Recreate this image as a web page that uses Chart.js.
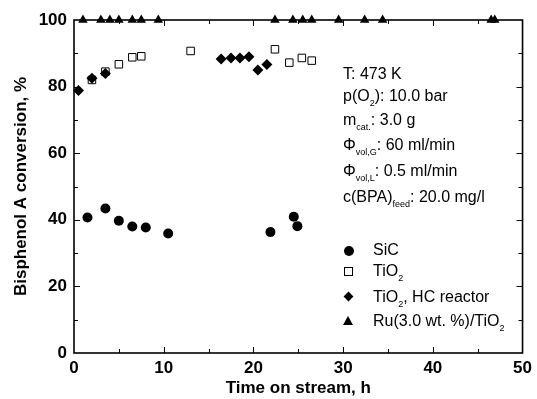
<!DOCTYPE html>
<html>
<head>
<meta charset="utf-8">
<script src="https://cdn.jsdelivr.net/npm/chart.js@4.4.1/dist/chart.umd.min.js"></script>
<style>
    body { margin: 0; background: #fff; }
    #wrap { position: relative; width: 537px; height: 399px; }
    .note {
        position: absolute;
        font-family: "Liberation Sans", Arial, sans-serif;
        font-size: 16px;
        line-height: 16px;
        color: #000;
        white-space: nowrap;
    }
    .note sub { font-size: 9px; vertical-align: -5px; line-height: 0; }
    .mk { position: absolute; }
</style>
</head>
<body>
<div id="wrap">
    <canvas id="chart"></canvas>

    <div class="note" style="left:343px; top:66px;">T: 473 K</div>
    <div class="note" style="left:343px; top:88px;">p(O<sub>2</sub>): 10.0 bar</div>
    <div class="note" style="left:343px; top:112px;">m<sub>cat.</sub>: 3.0 g</div>
    <div class="note" style="left:343px; top:137px;">&Phi;<sub>vol,G</sub>: 60 ml/min</div>
    <div class="note" style="left:343px; top:163px;">&Phi;<sub>vol,L</sub>: 0.5 ml/min</div>
    <div class="note" style="left:343px; top:189px;">c(BPA)<sub>feed</sub>: 20.0 mg/l</div>

    <div class="note" style="left:373px; top:242px;">SiC</div>
    <div class="note" style="left:373px; top:263px;">TiO<sub>2</sub></div>
    <div class="note" style="left:373px; top:289px;">TiO<sub>2</sub>, HC reactor</div>
    <div class="note" style="left:373px; top:313px;">Ru(3.0 wt. %)/TiO<sub>2</sub></div>

    <div class="mk" style="left:344px; top:246px; width:10px; height:10px; border-radius:50%; background:#000;"></div>
    <div class="mk" style="left:344px; top:267px; width:7px; height:7px; border:1px solid #000; background:#fff;"></div>
    <div class="mk" style="left:345px; top:293px; width:7px; height:7px; background:#000; transform:rotate(45deg);"></div>
    <div class="mk" style="left:343px; top:316px; width:0; height:0; border-left:5px solid transparent; border-right:5px solid transparent; border-bottom:9px solid #000;"></div>
</div>

<script>
// time on stream, h  /  conversion, %
let sicTime = [1.5, 3.5, 5.0, 6.5, 8.0, 10.5, 21.9, 24.5, 24.9];
let sicConv = [40.7, 43.4, 39.7, 38.0, 37.7, 35.9, 36.3, 40.9, 38.1];

let tio2Time = [2.0, 3.5, 5.0, 6.5, 7.5, 13.0, 22.4, 24.0, 25.4, 26.5];
let tio2Conv = [82.0, 84.5, 86.7, 88.8, 89.1, 90.7, 91.2, 87.2, 88.6, 87.8];

let hcTime = [0.5, 2.0, 3.5, 16.4, 17.5, 18.5, 19.5, 20.5, 21.5];
let hcConv = [78.8, 82.5, 83.9, 88.3, 88.6, 88.6, 89.0, 85.0, 86.6];

let ruTime = [1.0, 3.0, 4.0, 5.0, 6.5, 7.5, 9.4, 22.4, 24.4, 25.5, 26.5, 29.5, 32.4, 34.4, 46.5, 46.9];
let ruConv = [100, 100, 100, 100, 100, 100, 100, 100, 100, 100, 100, 100, 100, 100, 100, 100];

let xTicks = [0, 10, 20, 30, 40, 50];
let yTicks = [0, 20, 40, 60, 80, 100];

function toPoints(xs, ys) {
    let result = [];
    for (let i = 0; i < xs.length; i++) {
        result.push({ x: xs[i], y: ys[i] });
    }
    return result;
}

// box around the plot with inward ticks on all four sides
let framePlugin = {
    id: 'frame',
    beforeDatasetsDraw: function(chart) {
        let ctx = chart.ctx;
        let area = chart.chartArea;
        let xs = chart.scales.x;
        let ys = chart.scales.y;

        ctx.save();
        ctx.strokeStyle = '#000';
        ctx.lineWidth = 1.6;
        ctx.strokeRect(area.left, area.top, area.right - area.left, area.bottom - area.top);

        ctx.lineWidth = 1;
        ctx.beginPath();
        for (let v = 5; v < 50; v += 5) {
            let len = (v % 10 === 0) ? 6 : 4;
            let px = Math.round(xs.getPixelForValue(v)) + 0.5;
            ctx.moveTo(px, area.bottom);
            ctx.lineTo(px, area.bottom - len);
            ctx.moveTo(px, area.top);
            ctx.lineTo(px, area.top + len);
        }
        for (let v = 10; v < 100; v += 10) {
            let len = (v % 20 === 0) ? 6 : 4;
            let py = Math.round(ys.getPixelForValue(v)) + 0.5;
            ctx.moveTo(area.left, py);
            ctx.lineTo(area.left + len, py);
            ctx.moveTo(area.right, py);
            ctx.lineTo(area.right - len, py);
        }
        ctx.stroke();
        ctx.restore();
    }
};

let tickFont = { family: '"Liberation Sans", Arial, sans-serif', size: 17, weight: 'bold' };
let titleFont = { family: '"Liberation Sans", Arial, sans-serif', size: 17, weight: 'bold' };

let data = {
    datasets: [{
        label: 'TiO2, HC reactor',
        data: toPoints(hcTime, hcConv),
        pointStyle: 'rectRot',
        pointRadius: 5.5,
        backgroundColor: '#000',
        borderColor: '#000',
        borderWidth: 0,
        order: 0
    }, {
        label: 'SiC',
        data: toPoints(sicTime, sicConv),
        pointStyle: 'circle',
        pointRadius: 5,
        backgroundColor: '#000',
        borderColor: '#000',
        borderWidth: 0,
        order: 1
    }, {
        label: 'TiO2',
        data: toPoints(tio2Time, tio2Conv),
        pointStyle: 'rect',
        pointRadius: 5.3,
        backgroundColor: '#fff',
        borderColor: '#000',
        borderWidth: 1,
        order: 2
    }, {
        label: 'Ru(3.0 wt. %)/TiO2',
        data: toPoints(ruTime, ruConv),
        pointStyle: 'triangle',
        pointRadius: 5.5,
        backgroundColor: '#000',
        borderColor: '#000',
        borderWidth: 0,
        order: 3
    }]
};

let config = {
    type: 'scatter',
    data: data,
    options: {
        responsive: true,
        maintainAspectRatio: false,
        animation: false,
        clip: false,
        layout: { padding: { top: 20, right: 10, left: 0, bottom: 0 } },
        plugins: {
            legend: { display: false },
            tooltip: { enabled: false }
        },
        scales: {
            x: {
                type: 'linear',
                min: 0,
                max: 50,
                afterBuildTicks: function(scale) {
                    scale.ticks = xTicks.map(v => ({ value: v }));
                },
                afterFit: function(scale) { scale.height = 46; },
                grid: { display: false, drawTicks: false },
                border: { display: false },
                ticks: { font: tickFont, color: '#000', padding: 5, maxRotation: 0 },
                title: {
                    display: true,
                    text: 'Time on stream, h',
                    font: titleFont,
                    color: '#000',
                    padding: { top: 0, bottom: 0 }
                }
            },
            y: {
                min: 0,
                max: 100,
                afterBuildTicks: function(scale) {
                    scale.ticks = yTicks.map(v => ({ value: v }));
                },
                afterFit: function(scale) { scale.width = 74; },
                grid: { display: false, drawTicks: false },
                border: { display: false },
                ticks: { font: tickFont, color: '#000', padding: 7 },
                title: {
                    display: true,
                    text: 'Bisphenol A conversion, %',
                    font: titleFont,
                    color: '#000',
                    padding: { top: 11, bottom: 0 }
                }
            }
        }
    },
    plugins: [framePlugin]
};

let myChart = new Chart(document.getElementById('chart'), config);
</script>
</body>
</html>
